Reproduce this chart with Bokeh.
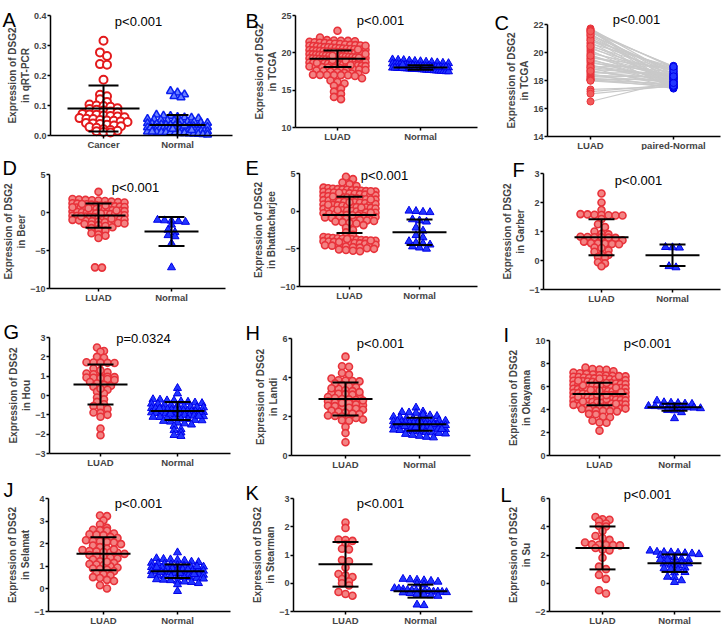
from bokeh.plotting import figure
from bokeh.layouts import gridplot
from bokeh.models import FixedTicker, Label, NumeralTickFormatter
from bokeh.embed import file_html
from bokeh.resources import INLINE

FONT = "Liberation Sans"

# ---------------- data ----------------
A_labels = ["Cancer", "Normal"]
A_cancer = [0.316, 0.277, 0.265, 0.238, 0.236, 0.186, 0.136, 0.131, 0.121, 0.112, 0.103, 0.1, 0.098,
            0.096, 0.091, 0.088, 0.086, 0.083, 0.08, 0.077, 0.072, 0.07, 0.069, 0.067, 0.065, 0.063,
            0.061, 0.058, 0.056, 0.055, 0.052, 0.05, 0.049, 0.047, 0.045, 0.042, 0.04, 0.038, 0.036,
            0.033, 0.031, 0.028, 0.026, 0.021, 0.018, 0.016, 0.014, 0.012, 0.01]
A_normal = [0.148, 0.143, 0.137, 0.131, 0.127, 0.069, 0.066, 0.065, 0.062, 0.06, 0.059, 0.057, 0.055,
            0.054, 0.052, 0.051, 0.049, 0.047, 0.046, 0.045, 0.043, 0.042, 0.041, 0.039, 0.038, 0.037,
            0.036, 0.035, 0.034, 0.033, 0.032, 0.031, 0.03, 0.029, 0.028, 0.027, 0.026, 0.025, 0.024,
            0.024, 0.023, 0.022, 0.021, 0.02, 0.019, 0.019, 0.018, 0.017, 0.016, 0.015, 0.015, 0.014,
            0.013, 0.012, 0.011, 0.011, 0.01, 0.009, 0.008, 0.008, 0.007, 0.006, 0.005, 0.004, 0.003,
            0.022, 0.027, 0.033, 0.013, 0.018]
A_mean = [0.090, 0.035]
A_sd = [0.077, 0.033]
A_yticks = [0.0, 0.1, 0.2, 0.3, 0.4]

B_labels = ["LUAD", "Normal"]
B_luad = [22.95, 22.05, 21.7, 21.65, 21.62, 21.6, 21.55,
          21.48, 21.41, 21.36, 21.33, 21.27, 21.22, 21.18, 21.12, 21.07, 21.03,
          20.98, 20.94, 20.91, 20.86, 20.82, 20.77, 20.74, 20.71, 20.66, 20.62,
          20.58, 20.55, 20.51, 20.47, 20.44, 20.41, 20.37, 20.33, 20.29, 20.26,
          20.22, 20.18, 20.15, 20.11, 20.08, 20.04, 20.01, 19.97, 19.94, 19.9,
          19.87, 19.83, 19.8, 19.76, 19.73, 19.69, 19.66, 19.62, 19.59, 19.55,
          19.52, 19.48, 19.45, 19.41, 19.38, 19.34, 19.31, 19.27, 19.24, 19.2,
          19.17, 19.13, 19.1, 19.06, 19.03, 18.99, 18.96, 18.92, 18.89, 18.85,
          18.82, 18.78, 18.75, 18.71, 18.68, 18.64, 18.61, 18.57, 18.54, 18.5,
          18.46, 18.42, 18.38, 18.34, 18.3, 18.26, 18.22, 18.17, 18.13, 18.08,
          18.04, 17.99, 17.94, 17.88, 17.82, 17.76, 17.7, 17.63, 17.56, 17.48,
          17.4, 17.32, 17.24, 17.16, 17.08, 17.02, 17.0, 17.01, 17.03, 17.05,
          20.95, 19.85, 18.95, 19.35, 20.45, 19.05, 18.65, 20.15, 19.6, 18.35,
          16.9, 16.6, 16.3, 16.1, 15.9, 15.6, 15.2, 14.8, 14.5, 14.1, 13.8]
B_normal = [19.1, 19.05, 19.02, 18.95, 18.9, 18.86, 18.8, 18.75, 18.7, 18.65, 18.6, 18.55, 18.5,
            18.46, 18.42, 18.38, 18.35, 18.32, 18.28, 18.25, 18.22, 18.2, 18.18, 18.15, 18.12, 18.1,
            18.08, 18.05, 18.02, 18.0, 17.98, 17.95, 17.92, 17.9, 17.88, 17.85, 17.82, 17.8, 17.78,
            17.75, 17.72, 17.7, 17.68, 17.65, 17.62, 17.6, 17.58, 17.55, 17.52, 17.5, 18.3, 18.1,
            17.95, 18.0, 18.2, 18.4, 17.85, 18.05]
B_mean = [19.2, 18.05]
B_sd = [1.1, 0.3]
B_yticks = [10, 15, 20, 25]

C_labels = ["LUAD", "paired-Normal"]
C_luad = [21.72, 21.66, 21.61, 21.58, 21.49, 21.43, 21.35, 21.22, 21.15, 21.04, 20.96, 20.85, 20.71,
          20.63, 20.52, 20.38, 20.27, 20.16, 20.05, 19.93, 19.84, 19.71, 19.62, 19.55, 19.41, 19.33,
          19.24, 19.12, 19.05, 18.97, 18.88, 18.79, 18.71, 18.62, 18.55, 18.47, 18.39, 18.31, 18.25,
          18.18, 18.12, 18.08, 18.04, 18.01, 17.98, 17.36, 17.21, 17.05, 16.5, 20.88, 21.28, 19.48,
          18.94, 20.45, 21.52, 18.68, 19.77]
C_normal = [18.42, 17.85, 18.9, 17.62, 18.25, 19.02, 17.55, 18.65, 18.1, 17.48, 18.78, 18.33, 17.72,
            18.95, 18.05, 17.9, 18.5, 17.45, 18.2, 18.7, 17.68, 18.15, 18.85, 17.58, 18.38, 17.95,
            18.6, 17.8, 18.28, 19.05, 17.52, 18.45, 17.75, 18.08, 18.55, 17.42, 18.18, 17.88, 18.35,
            17.65, 18.02, 17.5, 18.12, 17.78, 17.6, 17.55, 17.7, 17.62, 17.95, 18.82, 18.48, 17.92,
            18.22, 18.68, 18.98, 17.82, 18.3]
C_yticks = [14, 16, 18, 20, 22]

D_labels = ["LUAD", "Normal"]
D_luad = [2.72, 1.78, 1.71, 1.66, 1.62, 1.57, 1.52, 1.43, 1.36, 1.31, 1.22, 1.17, 1.08, 1.04, 0.97,
          0.93, 0.88, 0.81, 0.77, 0.72, 0.66, 0.63, 0.58, 0.52, 0.47, 0.44, 0.38, 0.33, 0.29, 0.22,
          0.18, 0.12, 0.07, 0.03, -0.02, -0.06, -0.11, -0.16, -0.21, -0.24, -0.31, -0.36, -0.42,
          -0.46, -0.52, -0.57, -0.61, -0.68, -0.73, -0.77, -0.83, -0.88, -0.92, -0.97, -1.03, -1.08,
          -1.14, -1.19, -1.26, -1.32, -1.38, -1.45, -1.52, -1.58, -1.66, -1.78, -1.95, -2.05, -2.2,
          -2.38, -2.74, -2.9, -3.05, -3.36, -7.22, -7.25, 0.91, 0.55, 0.26, -0.13, -0.49, 0.69, 1.12,
          -0.81]
D_normal = [-0.98, -1.05, -1.1, -1.16, -1.25, -1.62, -2.3, -2.6, -3.0, -3.15, -4.06, -7.23]
D_mean = [-0.4, -2.5]
D_sd = [1.6, 1.9]
D_yticks = [-10, -5, 0, 5]

E_labels = ["LUAD", "Normal"]
E_luad = [4.56, 4.25, 3.81, 3.59, 3.35, 3.12, 3.05,
          2.98, 2.93, 2.88, 2.85, 2.8, 2.76, 2.71, 2.66, 2.62, 2.57, 2.52, 2.47, 2.42, 2.36, 2.31,
          2.26, 2.2, 2.14, 2.09, 2.03, 1.98, 1.92, 1.87, 1.81, 1.76, 1.7, 1.64, 1.58, 1.53, 1.47,
          1.41, 1.35, 1.3, 1.24, 1.18, 1.12, 1.06, 1.0, 0.95, 0.89, 0.83, 0.77, 0.71, 0.65, 0.6,
          0.54, 0.48, 0.42, 0.36, 0.31, 0.25, 0.19, 0.13, 0.07, 0.02, -0.04, -0.1, -0.16, -0.22,
          -0.28, -0.34, -0.4, -0.46, -0.52, -0.58, -0.64, -0.7, -0.77, -0.83, -0.89, -0.96, -1.02,
          -1.09, -1.16, -1.23, -1.3, -1.38, -1.46, -1.55, -1.64, 2.45, 1.55, 0.85, 0.15, -0.55,
          1.95, 2.65, 0.5, -0.2, 1.2,
          -1.85, -2.2, -2.5, -2.82, -3.15,
          -3.42, -3.5, -3.56, -3.6, -3.66, -3.72, -3.78, -3.83, -3.88, -3.93, -3.98, -4.03, -4.08,
          -4.13, -4.18, -4.23, -4.28, -4.34, -4.4, -4.46, -4.52, -4.58, -4.64, -4.7, -4.77, -4.84,
          -4.92, -5.0, -5.08, -5.16, -5.25, -5.32, -3.7, -3.9, -4.1]
E_normal = [0.05, 0.0, -0.1, -0.15, -1.1, -1.25, -1.4, -2.2, -2.6, -3.2, -3.5, -4.0, -4.2, -4.3,
            -4.45, -4.7, -4.85, -5.0]
E_mean = [-0.5, -2.8]
E_sd = [2.4, 1.7]
E_yticks = [-10, -5, 0, 5]

F_labels = ["LUAD", "Normal"]
F_luad = [2.31, 2.0, 1.74, 1.6, 1.59, 1.58, 1.57, 1.56, 1.55, 1.55, 1.43, 1.25, 1.15, 1.0, 0.92,
          0.9, 0.82, 0.81, 0.8, 0.8, 0.79, 0.78, 0.7, 0.65, 0.6, 0.59, 0.58, 0.57, 0.56, 0.45,
          0.43, 0.35, 0.3, 0.2, 0.19, 0.12, 0.1, -0.06, -0.1, -0.2]
F_normal = [0.46, 0.44, 0.45, -0.2, -0.24]
F_mean = [0.8, 0.18]
F_sd = [0.62, 0.37]
F_yticks = [-1, 0, 1, 2, 3]

G_labels = ["LUAD", "Normal"]
G_luad = [2.48, 2.3, 2.26, 2.0, 1.95, 1.72, 1.71, 1.7, 1.69, 1.68, 1.4, 1.2, 1.14, 1.1, 0.98, 0.97,
          0.95, 0.93, 0.92, 0.9, 0.85, 0.7, 0.62, 0.55, 0.5, 0.45, 0.3, 0.2, 0.1, -0.1, -0.2, -0.33,
          -0.45, -0.55, -0.59, -0.7, -0.88, -0.9, -1.0, -1.1, -1.71, -2.05, 0.8, 1.3, 0.35]
G_normal = [0.38, 0.1, -0.2, -0.22, -0.26, -0.27, -0.31, -0.33, -0.37, -0.4, -0.43, -0.44, -0.48,
            -0.5, -0.52, -0.56, -0.58, -0.61, -0.62, -0.66, -0.67, -0.71, -0.72, -0.74, -0.77,
            -0.78, -0.8, -0.82, -0.83, -0.86, -0.88, -0.91, -0.92, -0.94, -0.97, -0.98, -1.01,
            -1.02, -1.05, -1.08, -1.11, -1.12, -1.16, -1.18, -1.21, -1.23, -1.27, -1.29, -1.32,
            -1.36, -1.41, -1.45, -1.51, -1.58, -1.75, -1.8, -1.92, -2.05, -2.1, -0.75, -0.85,
            -0.95, -0.68, -1.06]
G_mean = [0.57, -0.8]
G_sd = [1.03, 0.47]
G_yticks = [-3, -2, -1, 0, 1, 2, 3]

H_labels = ["LUAD", "Normal"]
H_luad = [5.07, 4.58, 4.55, 4.23, 4.15, 3.95, 3.86, 3.84, 3.82, 3.8, 3.62, 3.55, 3.5, 3.42, 3.35,
          3.3, 3.22, 3.17, 3.15, 3.12, 3.05, 3.0, 2.95, 2.9, 2.88, 2.85, 2.78, 2.72, 2.68, 2.62,
          2.58, 2.55, 2.53, 2.5, 2.45, 2.4, 2.35, 2.3, 2.25, 2.2, 2.12, 2.05, 2.03, 2.0, 1.95,
          1.92, 1.85, 1.81, 1.78, 1.47, 1.15, 0.68, 3.7, 3.25, 2.7, 2.15, 3.45, 2.82]
H_normal = [2.45, 2.25, 2.22, 2.2, 2.18, 2.1, 2.05, 2.02, 1.98, 1.95, 1.92, 1.9, 1.88, 1.85, 1.82,
            1.8, 1.78, 1.75, 1.72, 1.7, 1.68, 1.66, 1.64, 1.62, 1.6, 1.58, 1.56, 1.54, 1.52, 1.5,
            1.48, 1.46, 1.44, 1.42, 1.4, 1.38, 1.36, 1.34, 1.32, 1.3, 1.28, 1.25, 1.22, 1.2, 1.18,
            1.15, 1.12, 1.1, 1.05, 1.0, 0.95, 0.92, 1.65, 1.55, 1.45, 1.35, 1.75, 1.5, 1.6, 1.4]
H_mean = [2.9, 1.6]
H_sd = [0.85, 0.33]
H_yticks = [0, 2, 4, 6]

I_labels = ["LUAD", "Normal"]
I_luad = [7.65, 7.52, 7.48, 7.46, 7.32, 7.22, 7.15, 7.1, 7.05,
          6.98, 6.95, 6.92, 6.88, 6.85, 6.82, 6.78, 6.75, 6.71, 6.68, 6.64, 6.61, 6.57, 6.54, 6.5,
          6.47, 6.43, 6.4, 6.36, 6.33, 6.29, 6.26, 6.22, 6.19, 6.15, 6.12, 6.08, 6.05, 6.01, 5.98,
          5.94, 5.91, 5.87, 5.84, 5.8, 5.77, 5.73, 5.7, 5.66, 5.63, 5.59, 5.56, 5.52, 5.49, 5.45,
          5.42, 5.38, 5.35, 5.31, 5.28, 5.24, 5.21, 5.17, 5.14, 5.1, 5.07, 5.03, 5.0, 4.96, 4.93,
          4.89, 4.86, 4.82, 4.79, 4.75, 4.72, 4.68, 4.65, 4.61, 4.58, 4.54, 4.51, 4.47, 4.44, 4.4,
          4.36, 4.32, 4.28, 4.24, 4.2, 4.16, 4.12, 4.08, 4.04, 4.0, 6.7, 6.3, 5.9, 5.5, 5.1, 4.7,
          6.9, 6.1, 5.3, 4.5, 5.7, 4.9, 6.5, 5.25, 5.65,
          3.9, 3.88, 3.86, 3.84, 3.62, 3.58, 3.37, 3.32, 3.02, 2.88, 2.85, 2.16]
I_normal = [4.76, 4.62, 4.58, 4.55, 4.5, 4.48, 4.3, 4.28, 4.25, 4.24, 4.22, 4.2, 4.18, 4.15, 4.1,
            3.95, 3.92, 3.75, 3.23]
I_mean = [5.35, 4.2]
I_sd = [0.98, 0.3]
I_yticks = [0, 2, 4, 6, 8, 10]

J_labels = ["LUAD", "Normal"]
J_luad = [3.25, 3.22, 3.03, 2.85, 2.7, 2.62, 2.6, 2.58, 2.45, 2.42, 2.4, 2.38, 2.3, 2.25, 2.15,
          2.12, 2.1, 2.08, 2.05, 1.98, 1.92, 1.85, 1.78, 1.72, 1.68, 1.66, 1.64, 1.62, 1.6, 1.55,
          1.5, 1.45, 1.4, 1.38, 1.35, 1.3, 1.22, 1.15, 1.1, 1.08, 1.05, 1.0, 0.95, 0.9, 0.88, 0.85,
          0.78, 0.7, 0.65, 0.6, 0.52, 0.48, 0.4, 0.35, 0.16, 0.02, 1.2, 1.75]
J_normal = [1.61, 1.35, 1.32, 1.3, 1.28, 1.25, 1.2, 1.18, 1.15, 1.12, 1.1, 1.08, 1.05, 1.02, 1.0,
            0.98, 0.96, 0.94, 0.92, 0.9, 0.88, 0.86, 0.84, 0.82, 0.8, 0.78, 0.76, 0.74, 0.72, 0.7,
            0.68, 0.66, 0.64, 0.62, 0.6, 0.58, 0.56, 0.54, 0.52, 0.5, 0.48, 0.45, 0.42, 0.4, 0.38,
            0.35, 0.32, 0.3, 0.25, 0.2, -0.1, 0.85, 0.75, 0.65, 0.55, 0.95, 1.0, 0.7]
J_mean = [1.55, 0.78]
J_sd = [0.73, 0.3]
J_yticks = [-1, 0, 1, 2, 3, 4]

K_labels = ["LUAD", "Normal"]
K_luad = [2.15, 1.96, 1.55, 1.53, 1.5, 1.39, 1.22, 1.2, 0.82, 0.78, 0.56, 0.33, 0.28, 0.22, 0.15,
          0.06, 0.0, -0.08, -0.31, -0.38, -0.44]
K_normal = [0.15, 0.13, 0.12, 0.1, 0.08, 0.05, -0.02, -0.05, -0.18, -0.2, -0.22, -0.24, -0.25,
            -0.26, -0.27, -0.28, -0.29, -0.3, -0.3, -0.31, -0.32, -0.33, -0.35, -0.38, -0.4, -0.43,
            -0.45, -0.76, -0.78]
K_mean = [0.67, -0.28]
K_sd = [0.79, 0.23]
K_yticks = [-1, 0, 1, 2, 3]

L_labels = ["LUAD", "Normal"]
L_luad = [4.69, 4.53, 4.5, 4.4, 4.23, 4.05, 4.02, 3.7, 3.35, 3.2, 3.07, 2.89, 2.75, 2.73, 2.72, 2.7,
          2.68, 2.5, 2.38, 2.33, 1.81, 1.18, 1.0, 0.59, 0.31, -0.5, -0.73]
L_normal = [2.3, 2.22, 2.2, 2.18, 2.15, 2.12, 2.1, 2.05, 1.98, 1.9, 1.85, 1.72, 1.7, 1.68, 1.65, 1.5,
            1.45, 1.4, 1.38, 1.3, 1.25, 1.1, 1.05, 1.0, 0.95, 0.78, 0.75, 0.45, 0.42, 0.2, 0.08]
L_mean = [2.5, 1.42]
L_sd = [1.52, 0.62]
L_yticks = [-2, 0, 2, 4, 6]

# ---------------- layout (page pixels, origin at top-left of the page) ----------------
PANELS = [
    dict(letter="A", sub="in qRT-PCR", p="p<0.001", cats=A_labels, g1=A_cancer, g2=A_normal,
         mean=A_mean, sd=A_sd, yticks=A_yticks, fmt="0.0", open=True,
         cell=(0, 0, 243, 150), frame=(50, 232, 15, 135), centers=(103, 177),
         letter_at=(2, 5), p_at=(138, 16), mw=(36, 28), cw=(15, 11), mh=(24, 30)),
    dict(letter="B", sub="in TCGA", p="p<0.001", cats=B_labels, g1=B_luad, g2=B_normal,
         mean=B_mean, sd=B_sd, yticks=B_yticks,
         cell=(243, 0, 484, 150), frame=(295, 477, 15, 127), centers=(337, 420),
         letter_at=(245, 6), p_at=(380, 15), mw=(28, 27), cw=(14, 13), mh=(28, 28)),
    dict(letter="C", sub="in TCGA", p="p<0.001", cats=C_labels, g1=C_luad, g2=C_normal,
         paired=True, yticks=C_yticks,
         cell=(484, 0, 724, 150), frame=(547, 720, 24, 136), centers=(590, 673),
         letter_at=(494, 8), p_at=(636, 14)),
    dict(letter="D", sub="in Beer", p="p<0.001", cats=D_labels, g1=D_luad, g2=D_normal,
         mean=D_mean, sd=D_sd, yticks=D_yticks,
         cell=(0, 150, 243, 305), frame=(49, 225, 174, 288), centers=(98, 171),
         letter_at=(2, 153), p_at=(135, 182)),
    dict(letter="E", sub="in Bhattacharjee", p="p<0.001", cats=E_labels, g1=E_luad, g2=E_normal,
         mean=E_mean, sd=E_sd, yticks=E_yticks,
         cell=(243, 150, 484, 305), frame=(299, 477, 173, 286), centers=(349, 419),
         letter_at=(245, 153), p_at=(384, 170)),
    dict(letter="F", sub="in Garber", p="p<0.001", cats=F_labels, g1=F_luad, g2=F_normal,
         mean=F_mean, sd=F_sd, yticks=F_yticks,
         cell=(484, 150, 724, 305), frame=(543, 720, 173, 289), centers=(601, 672),
         letter_at=(512, 155), p_at=(638, 175)),
    dict(letter="G", sub="in Hou", p="p=0.0324", cats=G_labels, g1=G_luad, g2=G_normal,
         mean=G_mean, sd=G_sd, yticks=G_yticks,
         cell=(0, 305, 243, 472), frame=(49, 230, 337, 453), centers=(100, 177),
         letter_at=(3, 317), p_at=(143, 333)),
    dict(letter="H", sub="in Landi", p="p<0.001", cats=H_labels, g1=H_luad, g2=H_normal,
         mean=H_mean, sd=H_sd, yticks=H_yticks,
         cell=(243, 305, 484, 472), frame=(291, 470, 338, 455), centers=(345, 419),
         letter_at=(245, 318), p_at=(380, 338)),
    dict(letter="I", sub="in Okayama", p="p<0.001", cats=I_labels, g1=I_luad, g2=I_normal,
         mean=I_mean, sd=I_sd, yticks=I_yticks,
         cell=(484, 305, 724, 472), frame=(549, 720, 340, 455), centers=(599, 674),
         letter_at=(503, 320), p_at=(647, 338)),
    dict(letter="J", sub="in Selamat", p="p<0.001", cats=J_labels, g1=J_luad, g2=J_normal,
         mean=J_mean, sd=J_sd, yticks=J_yticks,
         cell=(0, 472, 243, 627), frame=(48, 230, 498, 611), centers=(103, 177),
         letter_at=(3, 475), p_at=(138, 498)),
    dict(letter="K", sub="in Stearman", p="p<0.001", cats=K_labels, g1=K_luad, g2=K_normal,
         mean=K_mean, sd=K_sd, yticks=K_yticks,
         cell=(243, 472, 484, 627), frame=(293, 472, 498, 611), centers=(345, 420),
         letter_at=(245, 478), p_at=(380, 498)),
    dict(letter="L", sub="in Su", p="p<0.001", cats=L_labels, g1=L_luad, g2=L_normal,
         mean=L_mean, sd=L_sd, yticks=L_yticks,
         cell=(484, 472, 724, 627), frame=(549, 720, 498, 611), centers=(602, 674),
         letter_at=(500, 480), p_at=(647, 489)),
]

RED_LINE = "#e8323a"
RED_FILL = "#f38383"
BLUE_LINE = "#0000e8"
BLUE_FILL = "#2236ff"


def swarm(vals, center, unit_px, ypx, d_px=7.0, row_px=4.0, maxhalf=26.0):
    """Arrange points in horizontal rows (GraphPad-like scatter dot plot)."""
    order = sorted(range(len(vals)), key=lambda i: -vals[i])
    rows = []
    for i in order:
        if rows and (vals[rows[-1][0]] - vals[i]) * ypx < row_px:
            rows[-1].append(i)
        else:
            rows.append([i])
    xs = [float(center)] * len(vals)
    for row in rows:
        m = len(row)
        if m == 1:
            continue
        sp = min(d_px, 2.0 * maxhalf / (m - 1))
        for k, i in enumerate(row):
            xs[i] = center + (k - (m - 1) / 2.0) * sp / unit_px
    return xs


def make_panel(P):
    cx0, cy0, cx1, cy1 = P["cell"]
    l, r, t, b = P["frame"]
    c1, c2 = P["centers"]
    unit = float(c2 - c1)
    ymin, ymax = P["yticks"][0], P["yticks"][-1]
    ypx = (b - t) / float(ymax - ymin)

    def to_x(px):
        return 1 + (px - c1) / unit

    def to_y(py):
        return ymax - (py - t) / ypx

    p = figure(width=cx1 - cx0, height=cy1 - cy0,
               x_range=(to_x(cx0), to_x(cx1)), y_range=(to_y(cy1), to_y(cy0)),
               output_backend="svg", toolbar_location=None,
               min_border_left=0, min_border_right=0, min_border_top=0, min_border_bottom=0)
    p.xgrid.visible = False
    p.ygrid.visible = False
    p.outline_line_color = None
    p.background_fill_color = "white"
    p.border_fill_color = "white"

    ya = p.yaxis[0]
    ya.fixed_location = to_x(l)
    ya.bounds = (ymin, ymax)
    ya.ticker = FixedTicker(ticks=P["yticks"])
    if P.get("fmt"):
        ya.formatter = NumeralTickFormatter(format=P["fmt"])
    ya.axis_label = "Expression of DSG2\n" + P["sub"]
    ya.axis_label_text_font = FONT
    ya.axis_label_text_font_size = "10px"
    ya.axis_label_text_font_style = "bold"
    ya.axis_label_standoff = 0
    ya.major_label_text_font = FONT
    ya.major_label_text_font_size = "9px"
    ya.major_label_text_font_style = "bold"
    ya.major_label_standoff = 1
    ya.major_tick_out = 3
    ya.major_tick_in = 0
    ya.minor_tick_out = 0
    ya.minor_tick_in = 0
    ya.axis_line_width = 1.5
    ya.major_tick_line_width = 1.5

    xa = p.xaxis[0]
    xa.fixed_location = ymin
    xa.bounds = (to_x(l), to_x(r))
    xa.ticker = FixedTicker(ticks=[1, 2])
    xa.major_label_overrides = {1: P["cats"][0], 2: P["cats"][1]}
    xa.major_label_text_font = FONT
    xa.major_label_text_font_size = "9.5px"
    xa.major_label_text_font_style = "bold"
    xa.major_label_standoff = 0
    xa.major_tick_out = 3
    xa.major_tick_in = 0
    xa.minor_tick_out = 0
    xa.minor_tick_in = 0
    xa.axis_line_width = 1.5
    xa.major_tick_line_width = 1.5

    g1, g2 = P["g1"], P["g2"]
    if P.get("paired"):
        p.segment(x0=[1] * len(g1), y0=g1, x1=[2] * len(g2), y1=g2,
                  line_color="#c9c9c9", line_width=1.2)
        p.scatter(x=[1] * len(g1), y=g1, marker="circle", size=7, fill_color="#f25a5a",
                  line_color=RED_LINE, line_width=1)
        p.scatter(x=[2] * len(g2), y=g2, marker="circle", size=7, fill_color=BLUE_FILL,
                  line_color=BLUE_LINE, line_width=1)
    else:
        mh = P.get("mh", (26, 26))
        x1s = swarm(g1, 1, unit, ypx, maxhalf=mh[0])
        x2s = swarm(g2, 2, unit, ypx, maxhalf=mh[1])
        if P.get("open"):
            p.scatter(x=x1s, y=g1, marker="circle", size=8, fill_color="white",
                      line_color="#e31a1c", line_width=2)
            p.scatter(x=x2s, y=g2, marker="triangle", size=8, fill_color="#6b82ff",
                      line_color="#0a1ef0", line_width=1.5)
        else:
            p.scatter(x=x1s, y=g1, marker="circle", size=7, fill_color=RED_FILL,
                      line_color=RED_LINE, line_width=1.6)
            p.scatter(x=x2s, y=g2, marker="triangle", size=8, fill_color=BLUE_FILL,
                      line_color=BLUE_LINE, line_width=1)
        mw = P.get("mw", (27, 27))
        cw = P.get("cw", (13, 13))
        sx0, sy0, sx1, sy1 = [], [], [], []
        for k, (m, s) in enumerate(zip(P["mean"], P["sd"])):
            c = k + 1
            hm = mw[k] / unit
            hc = cw[k] / unit
            sx0.append(c - hm); sx1.append(c + hm); sy0.append(m); sy1.append(m)
            sx0.append(c); sx1.append(c); sy0.append(m - s); sy1.append(m + s)
            sx0.append(c - hc); sx1.append(c + hc); sy0.append(m + s); sy1.append(m + s)
            sx0.append(c - hc); sx1.append(c + hc); sy0.append(m - s); sy1.append(m - s)
        p.segment(x0=sx0, y0=sy0, x1=sx1, y1=sy1, line_color="black", line_width=2)

    lx, ly = P["letter_at"]
    p.add_layout(Label(x=to_x(lx), y=to_y(ly + 14.5), text=P["letter"], text_font=FONT,
                       text_font_size="20px", text_color="black", text_align="left",
                       text_baseline="alphabetic"))
    px_, py_ = P["p_at"]
    p.add_layout(Label(x=to_x(px_), y=to_y(py_ + 4.7), text=P["p"], text_font=FONT,
                       text_font_size="13px", text_color="black", text_align="center",
                       text_baseline="alphabetic"))
    return p


figs = [make_panel(P) for P in PANELS]
grid = gridplot([figs[0:3], figs[3:6], figs[6:9], figs[9:12]], toolbar_location=None)

open("out.html", "w").write(file_html(grid, INLINE))
